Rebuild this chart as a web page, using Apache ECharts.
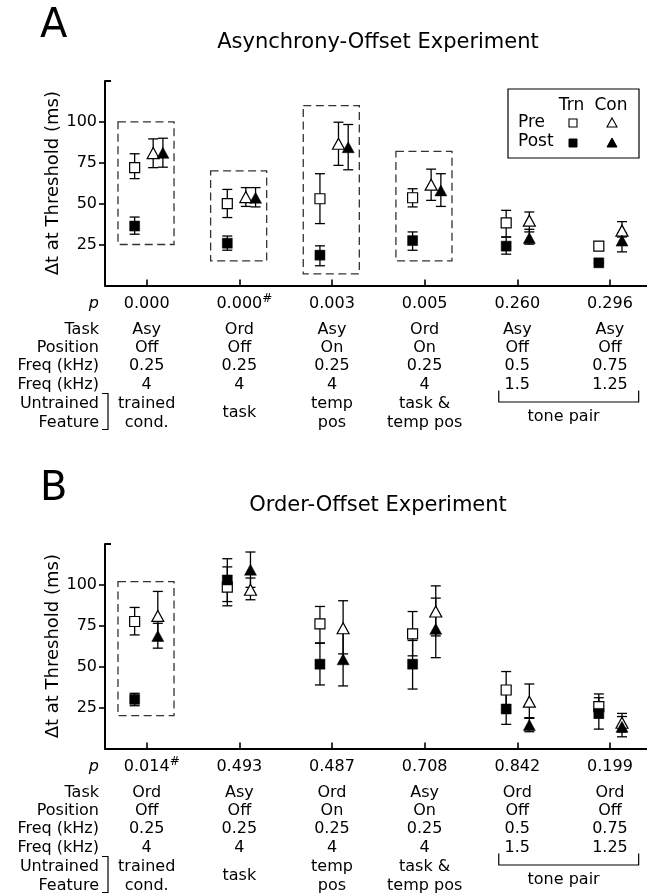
<!DOCTYPE html>
<html><head><meta charset="utf-8">
<script src="https://cdn.jsdelivr.net/npm/echarts@6/dist/echarts.min.js"></script>
<style>html,body{margin:0;padding:0;background:#fff}#c{width:647px;height:895px}</style>
</head><body><div id="c"></div>
<script>
// ---------- DATA ----------
const categories = [1, 2, 3, 4, 5, 6];
const yTicks = [25, 50, 75, 100];
const yMax = 125;
const rowLabels = ['p', 'Task', 'Position', 'Freq (kHz)', 'Freq (kHz)', 'Untrained', 'Feature'];
const untrainedFeature = [['trained', 'cond.'], ['task'], ['temp', 'pos'], ['task &', 'temp pos']];
const tonePairLabel = 'tone pair';
const legendCols = ['Trn', 'Con'];
const legendRows = ['Pre', 'Post'];

// Panel A : Asynchrony-Offset Experiment
const aTitle = 'Asynchrony-Offset Experiment';
const aTrnPre   = [72, 50, 53, 53.6, 38.2, 24];
const aTrnPreLo = [65.3, 41.5, 37.8, 48, 29.6, 21.5];
const aTrnPreHi = [80.5, 58.7, 68.3, 59.1, 45.9, 26.5];
const aTrnPost   = [36.3, 25.8, 18.5, 27.4, 24, 13.8];
const aTrnPostLo = [31.3, 21.5, 12, 21.5, 19.1, 13.8];
const aTrnPostHi = [41.8, 30.2, 24.2, 32.7, 29.6, 13.8];
const aConPre   = [80.9, 54, 86.6, 61.6, 39.6, 33.5];
const aConPreLo = [72, 48.3, 73.4, 52, 32.7, 29.6];
const aConPreHi = [89.6, 59.8, 99.8, 71.1, 44.9, 39];
const aConPost   = [81.1, 53.6, 84.5, 58.1, 29, 27.4];
const aConPostLo = [72.3, 48, 70.7, 48.3, 25.2, 20.5];
const aConPostHi = [90, 59.8, 98.4, 68.3, 34.3, 32];
const aBoxes = [[1, 25, 100], [2, 15, 70], [3, 7, 110], [4, 15, 82]]; // [category, low, high]
const aP = ['0.000', '0.000', '0.003', '0.005', '0.260', '0.296'];
const aPMark = ['', '#', '', '', '', ''];
const aTask = ['Asy', 'Ord', 'Asy', 'Ord', 'Asy', 'Asy'];
const aPosition = ['Off', 'Off', 'On', 'On', 'Off', 'Off'];
const aFreq1 = ['0.25', '0.25', '0.25', '0.25', '0.5', '0.75'];
const aFreq2 = ['4', '4', '4', '4', '1.5', '1.25'];

// Panel B : Order-Offset Experiment
const bTitle = 'Order-Offset Experiment';
const bTrnPre   = [77.6, 98.6, 76.2, 70, 35.7, 25.5];
const bTrnPreLo = [69.4, 87.2, 64.5, 56.6, 24, 18.6];
const bTrnPreHi = [86.2, 111, 86.8, 83.7, 47, 33.3];
const bTrnPost   = [30, 103, 51.5, 51.5, 24.1, 21.4];
const bTrnPostLo = [26.1, 89.8, 38.8, 36.3, 14.7, 11.8];
const bTrnPostHi = [33.7, 116, 64.3, 66, 33, 31];
const bConPre   = [81, 97, 73.5, 83.7, 28.6, 15.7];
const bConPreLo = [66, 90.9, 57.8, 68.8, 18.8, 10];
const bConPreHi = [96, 104.2, 90.3, 99.4, 39.4, 21.4];
const bConPost   = [68.8, 109.3, 54.5, 73.1, 14.3, 13.2];
const bConPostLo = [61.3, 98.5, 38.2, 55.5, 10.2, 7.1];
const bConPostHi = [76.5, 120.1, 70.8, 91.9, 18.4, 19.5];
const bBoxes = [[1, 20, 102]];
const bP = ['0.014', '0.493', '0.487', '0.708', '0.842', '0.199'];
const bPMark = ['#', '', '', '', '', ''];
const bTask = ['Ord', 'Asy', 'Ord', 'Asy', 'Ord', 'Ord'];
const bPosition = ['Off', 'Off', 'On', 'On', 'Off', 'Off'];
const bFreq1 = ['0.25', '0.25', '0.25', '0.25', '0.5', '0.75'];
const bFreq2 = ['4', '4', '4', '4', '1.5', '1.25'];

// ---------- LAYOUT / STYLE ----------
const FONT = 'DejaVu Sans';
const dodge = {
  a: { trn: [-0.13, -0.13, -0.13, -0.13, -0.12, -0.12], conPre: [0.07, 0.07, 0.07, 0.07, 0.13, 0.13], conPost: [0.175, 0.175, 0.175, 0.175, 0.13, 0.13] },
  b: { trn: [-0.13, -0.13, -0.13, -0.13, -0.12, -0.12], conPre: [0.12, 0.12, 0.12, 0.12, 0.13, 0.13], conPost: [0.12, 0.12, 0.12, 0.12, 0.13, 0.13] }
};
const grids = [{ left: 105, top: 81, height: 204.4, right: 0 }, { left: 105, top: 544, height: 204.4, right: 0 }];
const rowDy = [18, 44, 62, 80.8, 99.1, 118.1, 137.1];

function xAxisCfg(gi) {
  return {
    type: 'value', gridIndex: gi, min: 0.55, max: 6.4,
    axisLine: { show: true, onZero: false, lineStyle: { color: '#000', width: 2 } },
    axisTick: { show: true, inside: true, length: 6, customValues: categories, lineStyle: { color: '#000', width: 1.6 } },
    axisLabel: { show: false }, splitLine: { show: false }
  };
}
function yAxisCfg(gi) {
  return {
    type: 'value', gridIndex: gi, min: 0, max: yMax,
    name: 'Δt at Threshold (ms)', nameLocation: 'middle', nameGap: 43, nameMoveOverlap: false,
    nameTextStyle: { fontFamily: FONT, fontSize: 18, color: '#000' },
    axisLine: { show: true, onZero: false, lineStyle: { color: '#000', width: 2 } },
    axisTick: { show: true, inside: false, length: 6, customValues: yTicks, lineStyle: { color: '#000', width: 1.6 } },
    axisLabel: { show: true, customValues: yTicks, fontFamily: FONT, fontSize: 16, color: '#000', margin: 8 },
    splitLine: { show: false }
  };
}
function errSeries(gi, xs, lo, hi) {
  return {
    type: 'custom', xAxisIndex: gi, yAxisIndex: gi, z: 2, silent: true,
    data: xs.map((x, i) => [x, lo[i], hi[i]]),
    encode: { x: 0, y: [1, 2] },
    renderItem(params, api) {
      const x = api.value(0), p1 = api.coord([x, api.value(1)]), p2 = api.coord([x, api.value(2)]);
      const cw = 5, st = { stroke: '#000', lineWidth: 1.3 };
      return { type: 'group', children: [
        { type: 'line', shape: { x1: p1[0], y1: p1[1], x2: p2[0], y2: p2[1] }, style: st },
        { type: 'line', shape: { x1: p1[0] - cw, y1: p1[1], x2: p1[0] + cw, y2: p1[1] }, style: st },
        { type: 'line', shape: { x1: p2[0] - cw, y1: p2[1], x2: p2[0] + cw, y2: p2[1] }, style: st }
      ] };
    }
  };
}
function boxSeries(gi, boxes) {
  return {
    type: 'custom', xAxisIndex: gi, yAxisIndex: gi, z: 1, silent: true,
    data: boxes, encode: { x: 0, y: [1, 2] },
    renderItem(params, api) {
      const c = api.value(0), p1 = api.coord([c - 0.31, api.value(2)]), p2 = api.coord([c + 0.295, api.value(1)]);
      return { type: 'rect', shape: { x: p1[0], y: p1[1], width: p2[0] - p1[0], height: p2[1] - p1[1] },
        style: { fill: 'none', stroke: '#333', lineWidth: 1.3, lineDash: [8, 4.5] } };
    }
  };
}
function scatter(gi, xs, ys, symbol, open) {
  return {
    type: 'scatter', xAxisIndex: gi, yAxisIndex: gi, z: open ? 3 : 4, silent: true,
    symbol: symbol, symbolSize: symbol === 'rect' ? 10 : [12, 11],
    itemStyle: open ? { color: '#fff', borderColor: '#000', borderWidth: 1.2, opacity: 1 } : { color: '#000', borderColor: '#000', borderWidth: 0.5, opacity: 1 },
    data: xs.map((x, i) => [x, ys[i]])
  };
}
function panelSeries(gi, d, v) {
  const xt = categories.map((c, i) => c + d.trn[i]);
  const xcp = categories.map((c, i) => c + d.conPre[i]);
  const xcq = categories.map((c, i) => c + d.conPost[i]);
  return [
    boxSeries(gi, v.boxes),
    errSeries(gi, xt, v.trnPreLo, v.trnPreHi),
    errSeries(gi, xt, v.trnPostLo, v.trnPostHi),
    errSeries(gi, xcp, v.conPreLo, v.conPreHi),
    errSeries(gi, xcq, v.conPostLo, v.conPostHi),
    scatter(gi, xt, v.trnPre, 'rect', true),
    scatter(gi, xcp, v.conPre, 'triangle', true),
    scatter(gi, xt, v.trnPost, 'rect', false),
    scatter(gi, xcq, v.conPost, 'triangle', false)
  ];
}

const chart = echarts.init(document.getElementById('c'), null, { renderer: 'canvas' });
const A = { boxes: aBoxes, trnPre: aTrnPre, trnPreLo: aTrnPreLo, trnPreHi: aTrnPreHi, trnPost: aTrnPost, trnPostLo: aTrnPostLo, trnPostHi: aTrnPostHi,
  conPre: aConPre, conPreLo: aConPreLo, conPreHi: aConPreHi, conPost: aConPost, conPostLo: aConPostLo, conPostHi: aConPostHi };
const B = { boxes: bBoxes, trnPre: bTrnPre, trnPreLo: bTrnPreLo, trnPreHi: bTrnPreHi, trnPost: bTrnPost, trnPostLo: bTrnPostLo, trnPostHi: bTrnPostHi,
  conPre: bConPre, conPreLo: bConPreLo, conPreHi: bConPreHi, conPost: bConPost, conPostLo: bConPostLo, conPostHi: bConPostHi };

chart.setOption({
  animation: false,
  backgroundColor: '#fff',
  title: [
    { text: 'A', left: 40, top: 26.5, textVerticalAlign: 'middle', padding: 0, textStyle: { fontFamily: FONT, fontSize: 40, fontWeight: 'normal', color: '#000' } },
    { text: aTitle, left: 378, top: 42.5, textAlign: 'center', textVerticalAlign: 'middle', padding: 0, textStyle: { fontFamily: FONT, fontSize: 21, fontWeight: 'normal', color: '#000' } },
    { text: 'B', left: 40, top: 489.5, textVerticalAlign: 'middle', padding: 0, textStyle: { fontFamily: FONT, fontSize: 40, fontWeight: 'normal', color: '#000' } },
    { text: bTitle, left: 378, top: 505.5, textAlign: 'center', textVerticalAlign: 'middle', padding: 0, textStyle: { fontFamily: FONT, fontSize: 21, fontWeight: 'normal', color: '#000' } }
  ],
  grid: grids,
  xAxis: [xAxisCfg(0), xAxisCfg(1)],
  yAxis: [yAxisCfg(0), yAxisCfg(1)],
  series: [...panelSeries(0, dodge.a, A), ...panelSeries(1, dodge.b, B)]
});

// ---------- TABLES, LEGEND (text placed through the axis scales) ----------
const TFS = 16;
function txt(x, y, s, align, extra) {
  return { type: 'text', x: x, y: y, silent: true,
    style: Object.assign({ text: s, fontFamily: FONT, fontSize: TFS, fill: '#000', align: align || 'center', verticalAlign: 'middle' }, extra || {}) };
}
function line(pts, w) {
  return { type: 'polyline', silent: true, shape: { points: pts }, style: { stroke: '#000', lineWidth: w || 1.2, fill: 'none' } };
}
const els = [];
function table(gi, p, pMark, task, pos, f1, f2) {
  const px = v => chart.convertToPixel({ gridIndex: gi }, [v, 0]);
  const y0 = px(1)[1];
  const ry = rowDy.map(d => y0 + d);
  const top = chart.convertToPixel({ gridIndex: gi }, [0.55, yMax]);
  els.push(line([[top[0], top[1]], [top[0] + 6, top[1]]], 2));
  rowLabels.forEach((l, r) => els.push(txt(99, ry[r], l, 'right', r === 0 ? { fontStyle: 'italic' } : null)));
  els.push(line([[102, ry[5] - 10], [108, ry[5] - 10], [108, ry[6] + 7], [102, ry[6] + 7]], 1.2));
  categories.forEach((c, i) => {
    const cx = px(c)[0];
    els.push(txt(cx, ry[0], p[i]));
    if (pMark[i]) els.push(txt(cx + 23, ry[0] - 5, pMark[i], 'left', { fontSize: 12 }));
    els.push(txt(cx, ry[1], task[i]));
    els.push(txt(cx, ry[2], pos[i]));
    els.push(txt(cx, ry[3], f1[i]));
    els.push(txt(cx, ry[4], f2[i]));
    const uf = untrainedFeature[i];
    if (uf) {
      if (uf.length === 2) { els.push(txt(cx, ry[5], uf[0])); els.push(txt(cx, ry[6], uf[1])); }
      else els.push(txt(cx, (ry[5] + ry[6]) / 2, uf[0]));
    }
  });
  const xl = px(5 - 0.2)[0], xr = px(6 + 0.31)[0];
  els.push(line([[xl, ry[4] + 6], [xl, ry[4] + 17.5], [xr, ry[4] + 17.5], [xr, ry[4] + 6]], 1.2));
  els.push(txt((px(5)[0] + px(6)[0]) / 2, (ry[5] + ry[6]) / 2 + 4, tonePairLabel));
}
table(0, aP, aPMark, aTask, aPosition, aFreq1, aFreq2);
table(1, bP, bPMark, bTask, bPosition, bFreq1, bFreq2);

// legend box (panel A)
els.push({ type: 'rect', silent: true, shape: { x: 508, y: 89, width: 131, height: 69 }, style: { fill: '#fff', stroke: '#000', lineWidth: 1.2 } });
els.push(txt(571.5, 106, legendCols[0], 'center', { fontSize: 17 }));
els.push(txt(611, 106, legendCols[1], 'center', { fontSize: 17 }));
els.push(txt(518, 123, legendRows[0], 'left', { fontSize: 17 }));
els.push(txt(518, 142, legendRows[1], 'left', { fontSize: 17 }));
els.push({ type: 'rect', silent: true, shape: { x: 569, y: 119, width: 8, height: 8 }, style: { fill: '#fff', stroke: '#000', lineWidth: 1.1 } });
els.push({ type: 'rect', silent: true, shape: { x: 569, y: 139, width: 8, height: 8 }, style: { fill: '#000', stroke: '#000', lineWidth: 1 } });
els.push({ type: 'polygon', silent: true, shape: { points: [[612, 118], [617, 127], [607, 127]] }, style: { fill: '#fff', stroke: '#000', lineWidth: 1.1 } });
els.push({ type: 'polygon', silent: true, shape: { points: [[612, 138], [617, 147], [607, 147]] }, style: { fill: '#000', stroke: '#000', lineWidth: 1 } });

chart.setOption({ graphic: { elements: els } });
</script>
</body></html>
